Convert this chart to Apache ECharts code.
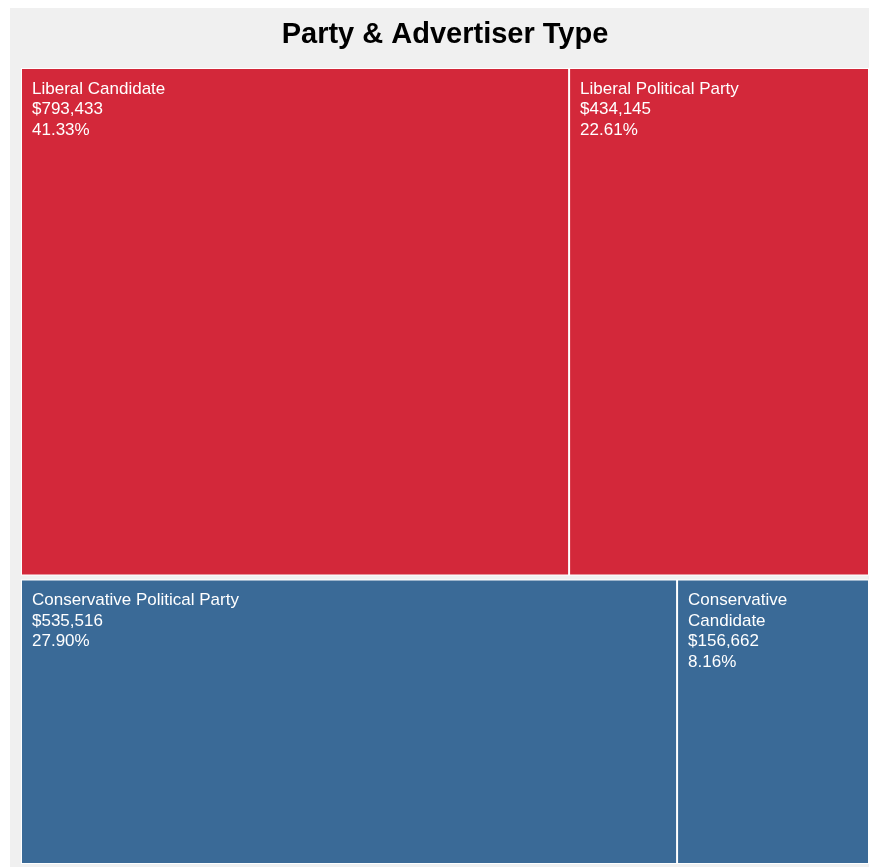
<!DOCTYPE html>
<html>
<head>
<meta charset="utf-8">
<title>Party & Advertiser Type</title>
<script src="https://cdn.jsdelivr.net/npm/echarts@6/dist/echarts.min.js"></script>
<style>
  html, body { margin: 0; padding: 0; background: #ffffff; overflow: hidden; }
  #chart { width: 100vw; height: 100vh; min-width: 869px; min-height: 867px; }
</style>
</head>
<body>
<div id="chart"></div>
<script>
// Ad spending by party and advertiser type
const parties = ['Liberal', 'Conservative'];
const partyColors = ['#d3283a', '#3a6a97'];
const liberalTypes = ['Liberal Candidate', 'Liberal Political Party'];
const liberalSpend = [793433, 434145];
const conservativeTypes = ['Conservative Political Party', 'Conservative Candidate'];
const conservativeSpend = [535516, 156662];

const grandTotal = [...liberalSpend, ...conservativeSpend].reduce((a, b) => a + b, 0);

function children(names, values) {
  return names.map((n, i) => ({ name: n, value: values[i] }));
}

const treeData = [
  { name: parties[0], itemStyle: { color: partyColors[0] }, children: children(liberalTypes, liberalSpend) },
  { name: parties[1], itemStyle: { color: partyColors[1] }, children: children(conservativeTypes, conservativeSpend) }
];

const FONT = "'Liberation Sans', Arial, Helvetica, sans-serif";

const chart = echarts.init(document.getElementById('chart'), null, { renderer: 'canvas' });
chart.setOption({
  backgroundColor: '#ffffff',
  animation: false,
  graphic: [{
    type: 'rect',
    z: -10,
    silent: true,
    shape: { x: 10, y: 8, width: 1000, height: 859 },
    style: { fill: '#f0f0f0' }
  }],
  title: {
    text: 'Party & Advertiser Type',
    left: 440,
    textAlign: 'center',
    top: 15,
    textStyle: { fontFamily: FONT, fontSize: 29, fontWeight: 'bold', color: '#000000' }
  },
  series: [{
    type: 'treemap',
    left: 21,
    top: 68,
    width: 848,
    height: 796,
    roam: false,
    nodeClick: false,
    breadcrumb: { show: false },
    squareRatio: 0.5 * (1 + Math.sqrt(5)),
    sort: false,
    data: treeData,
    label: {
      show: true,
      position: [5, 5],
      color: '#ffffff',
      fontFamily: FONT,
      fontSize: 17,
      lineHeight: 20.5,
      overflow: 'break',
      formatter: function (p) {
        const pct = (p.value / grandTotal * 100).toFixed(2);
        return p.name + '\n$' + p.value.toLocaleString('en-US') + '\n' + pct + '%';
      }
    },
    upperLabel: { show: false },
    levels: [
      { itemStyle: { borderWidth: 0, gapWidth: 4, borderColor: '#f0f0f0' } },
      { itemStyle: { borderWidth: 1, gapWidth: 2, borderColor: '#ffffff' } },
      { itemStyle: { borderWidth: 0 } }
    ]
  }]
});
</script>
</body>
</html>
